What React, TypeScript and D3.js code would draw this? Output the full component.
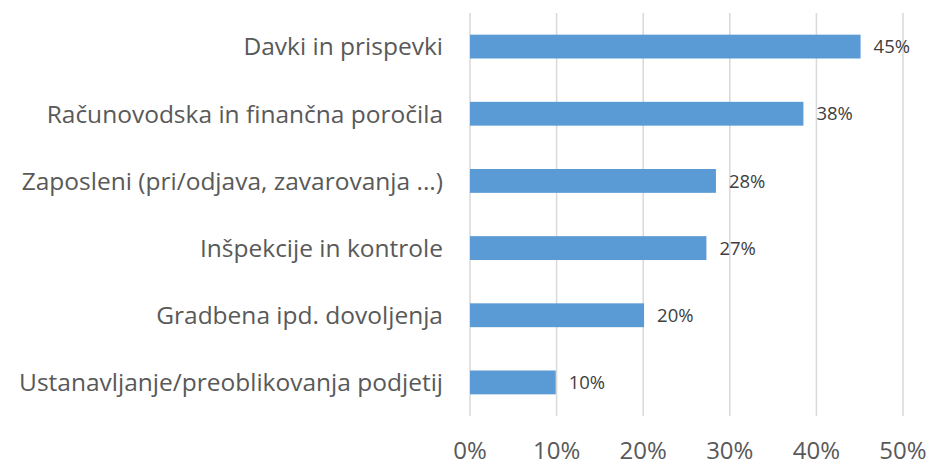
import React from "react";
import * as d3 from "d3";

const categories = [
  "Davki in prispevki",
  "Računovodska in finančna poročila",
  "Zaposleni (pri/odjava, zavarovanja ...)",
  "Inšpekcije in kontrole",
  "Gradbena ipd. dovoljenja",
  "Ustanavljanje/preoblikovanja podjetij",
];
const values = [45.1, 38.5, 28.4, 27.3, 20.1, 9.9];
const valueLabels = ["45%", "38%", "28%", "27%", "20%", "10%"];
const ticks = [0, 10, 20, 30, 40, 50];

const W = 930;
const H = 463;
const FONT = "'Open Sans', 'Noto Sans', sans-serif";

export default function App() {
  const x = d3.scaleLinear().domain([0, 50]).range([470, 903]);
  const y = d3
    .scaleBand<string>()
    .domain(categories)
    .range([13, 416])
    .paddingInner(0.645)
    .paddingOuter(0.3225);

  return (
    <svg
      width={W}
      height={H}
      style={{ position: "absolute", left: 0, top: 0, background: "#ffffff" }}
    >
      <rect x={0} y={0} width={W} height={H} fill="#ffffff" />
      {ticks.map((t) => (
        <line
          key={"g" + t}
          x1={x(t)}
          x2={x(t)}
          y1={13}
          y2={416}
          stroke="#d9d9d9"
          strokeWidth={1.5}
        />
      ))}
      {categories.map((c, i) => (
        <g key={c}>
          <rect
            x={x(0)}
            y={y(c)!}
            width={x(values[i]) - x(0)}
            height={y.bandwidth()}
            fill="#5b9bd5"
          />
          <text
            x={x(values[i]) + 13}
            y={y(c)! + y.bandwidth() / 2}
            dy="0.36em"
            fontFamily={FONT}
            fontSize={18.5}
            fill="#404040"
          >
            {valueLabels[i]}
          </text>
          <text
            x={443}
            y={y(c)! + y.bandwidth() / 2}
            dy="0.36em"
            textAnchor="end"
            fontFamily={FONT}
            fontSize={24.5}
            fill="#595959"
          >
            {c}
          </text>
        </g>
      ))}
      {ticks.map((t) => (
        <text
          key={"t" + t}
          x={x(t)}
          y={459}
          textAnchor="middle"
          fontFamily={FONT}
          fontSize={24}
          fill="#595959"
        >
          {t + "%"}
        </text>
      ))}
    </svg>
  );
}
